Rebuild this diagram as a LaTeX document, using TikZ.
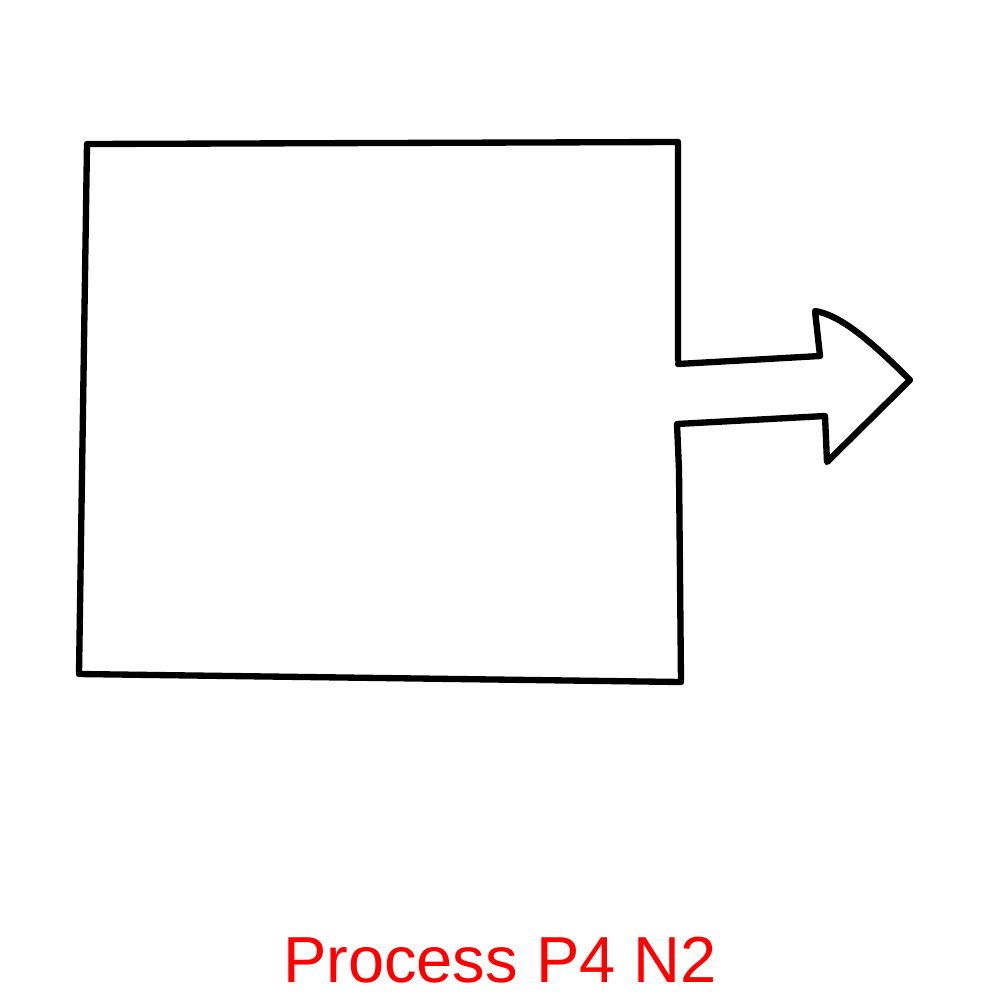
\documentclass[tikz,border=0pt]{standalone}
\usepackage{fontspec}
\setmainfont{Liberation Sans}
\begin{document}
\begin{tikzpicture}[x=0.01cm,y=-0.01cm,
  outline/.style={draw=black,line width=1.8pt,line join=round,line cap=round},
  caption/.style={text=red,font=\fontsize{18.5}{22}\selectfont,inner sep=0pt}]
\useasboundingbox (0,0) rectangle (1000,1000);
\draw[outline] (678,360) -- (678,142) -- (87,144) -- (79,674) -- (681,682)
  -- (679,470) -- (677,424) -- (825,416) -- (827,462) -- (910,380)
  .. controls (870,340) and (840,315) .. (815,311) -- (820,356) -- (678,364);
\node[caption] (title) at (500,960) {Process P4 N2};
\end{tikzpicture}
\end{document}
